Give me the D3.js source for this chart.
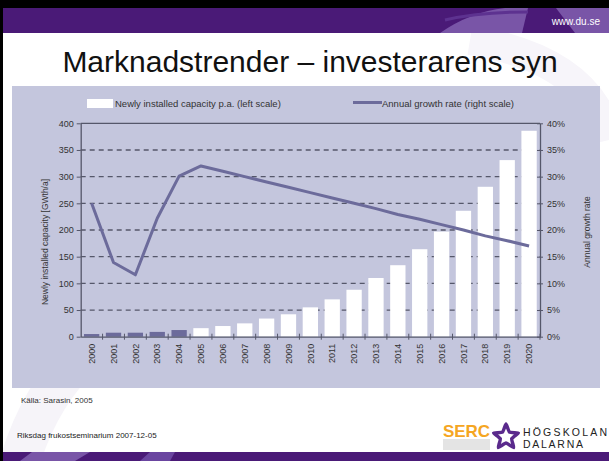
<!DOCTYPE html>
<html>
<head>
<meta charset="utf-8">
<script src="https://cdn.jsdelivr.net/npm/d3@7"></script>
<style>
  body { margin: 0; background: #fff; }
  text { font-family: Arial, "Liberation Sans", sans-serif; }
</style>
</head>
<body>
<div id="slide"></div>
<script>
// chart data
const years = ["2000","2001","2002","2003","2004","2005","2006","2007","2008","2009","2010",
               "2011","2012","2013","2014","2015","2016","2017","2018","2019","2020"];
const capacity = [5, 7.5, 7.5, 9, 12.5, 16, 20, 25, 34, 42, 55,
                  70, 88, 110, 134, 164, 197, 236, 281, 331, 386];   // GWth/a
const growth = [0.25, 0.139, 0.116, 0.222, 0.301, 0.32, 0.31, 0.30, 0.29, 0.28, 0.27,
                0.26, 0.25, 0.24, 0.229, 0.22, 0.21, 0.20, 0.189, 0.18, 0.17];
const historicYears = ["2000","2001","2002","2003","2004"];
const leftTicks = [0, 50, 100, 150, 200, 250, 300, 350, 400];
const rightTicks = [0, 0.05, 0.10, 0.15, 0.20, 0.25, 0.30, 0.35, 0.40];
const legendLabels = ["Newly installed capacity p.a. (left scale)", "Annual growth rate (right scale)"];

const W = 609, H = 461;
const purple = "#4a1a77", lightPurple = "#7955a7";
const panelColor = "#c4c6dd", lineColor = "#6c6b9b", gridColor = "#55576a", textColor = "#333";

const svg = d3.select("#slide").append("svg")
  .attr("width", W).attr("height", H);

// ---- slide background ----
svg.append("rect").attr("width", W).attr("height", H).attr("fill", "#fff");
// faint watermark swirls
svg.append("path").attr("d", "M20,461 Q60,330 190,300").attr("fill", "none")
  .attr("stroke", "#f6f4f9").attr("stroke-width", 40);
svg.append("path").attr("d", "M470,40 Q590,60 609,140").attr("fill", "none")
  .attr("stroke", "#f7f5fa").attr("stroke-width", 30);

// top band
svg.append("rect").attr("x", 0).attr("y", 0).attr("width", W).attr("height", 8).attr("fill", "#000");
svg.append("rect").attr("x", 0).attr("y", 8).attr("width", W).attr("height", 25).attr("fill", purple);
svg.append("path").attr("d", "M440,33 Q470,12 505,8 L528,8 L522,33 Z").attr("fill", lightPurple);
svg.append("path").attr("d", "M556,8 L609,8 L609,33 L575,33 Z").attr("fill", lightPurple);
svg.append("path").attr("d", "M445,20 Q480,12 528,12").attr("fill", "none")
  .attr("stroke", "#5d3290").attr("stroke-width", 3);
svg.append("text").attr("x", 600).attr("y", 25).attr("text-anchor", "end")
  .attr("fill", "#fff").attr("font-size", 10).text("www.du.se");

// bottom band
svg.append("rect").attr("x", 0).attr("y", 452).attr("width", W).attr("height", 9).attr("fill", purple);
svg.append("path").attr("d", "M20,461 L32,452 L90,452 L75,461 Z").attr("fill", lightPurple);
svg.append("path").attr("d", "M140,461 L150,452 L175,452 L170,461 Z").attr("fill", "#6a45a0");
// left edge
svg.append("rect").attr("x", 0).attr("y", 0).attr("width", 3).attr("height", H).attr("fill", "#000");

// title
svg.append("text").attr("x", 310).attr("y", 72).attr("text-anchor", "middle")
  .attr("font-size", 30).attr("fill", "#111").text("Marknadstrender – investerarens syn");

// ---- chart panel ----
svg.append("rect").attr("x", 12).attr("y", 86).attr("width", 588).attr("height", 302)
  .attr("fill", panelColor);

const margin = {top: 123.3, left: 80.7, right: 540, bottom: 336.7};
const x = d3.scaleBand().domain(years).range([margin.left, margin.right]).padding(0);
const yL = d3.scaleLinear().domain([0, 400]).range([margin.bottom, margin.top]);
const yR = d3.scaleLinear().domain([0, 0.4]).range([margin.bottom, margin.top]);

const g = svg.append("g");

// dashed grid
g.selectAll(".grid").data(leftTicks.filter(v => v > 0 && v < 400)).join("line")
  .attr("x1", margin.left).attr("x2", margin.right)
  .attr("y1", d => yL(d)).attr("y2", d => yL(d))
  .attr("stroke", gridColor).attr("stroke-width", 1.3).attr("stroke-dasharray", "5,4");
g.append("line").attr("x1", margin.left).attr("x2", margin.right)
  .attr("y1", yL(400)).attr("y2", yL(400)).attr("stroke", gridColor).attr("stroke-width", 1.3);

// bars
const barW = x.bandwidth() * 0.7;
g.selectAll(".bar").data(years).join("rect")
  .attr("x", (d) => x(d) + (x.bandwidth() - barW) / 2)
  .attr("y", (d, i) => yL(capacity[i]))
  .attr("width", barW)
  .attr("height", (d, i) => yL(0) - yL(capacity[i]))
  .attr("fill", d => historicYears.includes(d) ? lineColor : "#fff");

// growth line
const line = d3.line()
  .x((d, i) => x(years[i]) + x.bandwidth() / 2)
  .y(d => yR(d));
g.append("path").datum(growth).attr("d", line)
  .attr("fill", "none").attr("stroke", lineColor).attr("stroke-width", 3)
  .attr("stroke-linejoin", "round");

// axes
const leftAxis = g.append("g").attr("transform", `translate(${margin.left},0)`)
  .call(d3.axisLeft(yL).tickValues(leftTicks).tickSize(4).tickSizeOuter(0).tickPadding(3));
const rightAxis = g.append("g").attr("transform", `translate(${margin.right},0)`)
  .call(d3.axisRight(yR).tickValues(rightTicks).tickFormat(d3.format(".0%"))
    .tickSize(3).tickSizeOuter(0).tickPadding(4));
rightAxis.selectAll(".tick line").attr("x1", -3);

const bottomAxis = g.append("g").attr("transform", `translate(0,${margin.bottom})`)
  .call(d3.axisBottom(x).tickSize(0).tickSizeOuter(0));
bottomAxis.selectAll(".tick text")
  .attr("transform", "rotate(-90)")
  .attr("text-anchor", "end")
  .attr("x", -7).attr("y", 0).attr("dy", "0.35em");
// tick marks at band edges
bottomAxis.selectAll(".edge").data(years.slice(1).concat([null])).join("line")
  .attr("x1", d => d ? x(d) : margin.right).attr("x2", d => d ? x(d) : margin.right)
  .attr("y1", -3).attr("y2", 3).attr("stroke", gridColor);

[leftAxis, rightAxis, bottomAxis].forEach(a => {
  a.selectAll(".domain").attr("stroke", gridColor).attr("stroke-width", 1.3);
  a.selectAll(".tick line").attr("stroke", gridColor);
  a.selectAll("text").attr("fill", textColor).attr("font-size", 9).attr("font-family", "Arial, 'Liberation Sans', sans-serif");
});

// axis titles
svg.append("text").attr("transform", "translate(48,242) rotate(-90)")
  .attr("text-anchor", "middle").attr("font-size", 8.5).attr("fill", textColor)
  .text("Newly installed capacity [GWth/a]");
svg.append("text").attr("transform", "translate(590,232) rotate(-90)")
  .attr("text-anchor", "middle").attr("font-size", 8.5).attr("fill", textColor)
  .text("Annual growth rate");

// legend
svg.append("rect").attr("x", 87).attr("y", 99).attr("width", 26).attr("height", 9).attr("fill", "#fff");
svg.append("text").attr("x", 115).attr("y", 107).attr("font-size", 9.5).attr("fill", textColor)
  .text(legendLabels[0]);
svg.append("line").attr("x1", 353).attr("x2", 382).attr("y1", 102.5).attr("y2", 102.5)
  .attr("stroke", lineColor).attr("stroke-width", 3);
svg.append("text").attr("x", 382).attr("y", 107).attr("font-size", 9.5).attr("fill", textColor)
  .text(legendLabels[1]);

// footer
svg.append("text").attr("x", 21).attr("y", 403).attr("font-size", 8).attr("fill", textColor)
  .text("Källa: Sarasin, 2005");
svg.append("text").attr("x", 17).attr("y", 438).attr("font-size", 8).attr("fill", "#222")
  .text("Riksdag frukostseminarium 2007-12-05");

// logos
svg.append("rect").attr("x", 443).attr("y", 439).attr("width", 47).attr("height", 11).attr("fill", "#e4e4e4");
svg.append("text").attr("x", 443).attr("y", 437).attr("font-size", 17).attr("font-weight", "bold")
  .attr("font-family", "'Liberation Serif', serif").attr("fill", "#f5a623").attr("textLength", 47)
  .text("SERC");
const star = d3.range(10).map(i => {
  const r = i % 2 ? 6 : 13, a = -Math.PI / 2 + i * Math.PI / 5;
  return [506 + r * Math.cos(a), 437 + r * Math.sin(a)];
});
svg.append("path").attr("d", d3.line().curve(d3.curveCardinalClosed.tension(0.6))(star))
  .attr("fill", "none").attr("stroke", "#5a2a8c").attr("stroke-width", 3.5);
svg.append("text").attr("x", 523).attr("y", 435.5).attr("font-size", 10.5).attr("fill", "#222")
  .attr("textLength", 84).text("HÖGSKOLAN");
svg.append("text").attr("x", 523).attr("y", 448).attr("font-size", 10.5).attr("fill", "#222")
  .attr("textLength", 60).text("DALARNA");
</script>
</body>
</html>
